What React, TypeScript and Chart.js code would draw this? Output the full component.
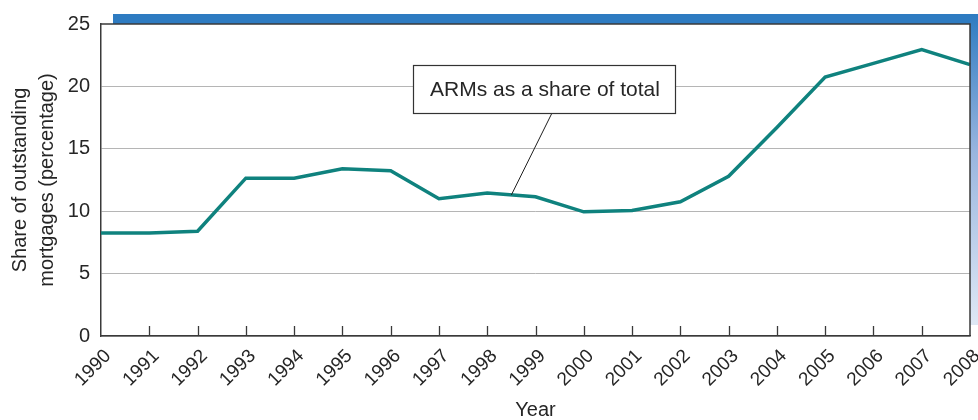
import React, { useEffect, useRef } from "react";
import { Chart, registerables } from "chart.js";

Chart.register(...registerables);

const years = [
  "1990", "1991", "1992", "1993", "1994", "1995", "1996", "1997", "1998", "1999",
  "2000", "2001", "2002", "2003", "2004", "2005", "2006", "2007", "2008",
];
const armShare = [
  8.25, 8.25, 8.4, 12.65, 12.65, 13.4, 13.25, 11.0, 11.45, 11.15,
  9.95, 10.05, 10.75, 12.8, 16.7, 20.75, 21.85, 22.95, 21.75,
];
const yTicks = [0, 5, 10, 15, 20, 25];
const calloutText = "ARMs as a share of total";
const calloutYear = 8.5; // index position (between 1998 and 1999) the pointer touches
const calloutValue = 11.3;

const FONT = "'Liberation Sans', Arial, Helvetica, sans-serif";
const INK = "#262626";
const FRAME = "#3a3a3a";
const TEAL = "#0f827e";
const BLUE = "#2e7bc1";

const framePlugin = {
  id: "frameAndDecor",
  beforeDraw(chart: any) {
    const { ctx, chartArea } = chart;
    const { left, top, right, bottom } = chartArea;
    ctx.save();
    // blue band along the top of the panel
    ctx.fillStyle = BLUE;
    ctx.fillRect(left + 12, top - 10, chart.width - left - 12, 10);
    // fading blue strip down the right edge
    const g = ctx.createLinearGradient(0, top - 10, 0, bottom - 11);
    g.addColorStop(0, BLUE);
    g.addColorStop(0.45, "#9ab6df");
    g.addColorStop(1, "#dfe8f5");
    ctx.fillStyle = g;
    ctx.fillRect(right, top - 10, chart.width - right, bottom - 11 - (top - 10));
    ctx.restore();
  },
  afterDraw(chart: any) {
    const { ctx, chartArea, scales } = chart;
    const { left, top, right, bottom } = chartArea;
    const x = scales.x;
    const y = scales.y;
    ctx.save();
    // top and right frame lines
    ctx.strokeStyle = FRAME;
    ctx.lineWidth = 1.5;
    ctx.beginPath();
    ctx.moveTo(left, top);
    ctx.lineTo(right, top);
    ctx.lineTo(right, bottom);
    ctx.stroke();
    // inward year tick marks
    ctx.lineWidth = 1.3;
    ctx.beginPath();
    for (let i = 1; i < years.length - 1; i++) {
      const px = Math.round(x.getPixelForValue(i)) + 0.5;
      ctx.moveTo(px, bottom);
      ctx.lineTo(px, bottom - 10);
    }
    ctx.stroke();

    // callout box with leader line
    const tipX = x.getPixelForValue(calloutYear);
    const tipY = y.getPixelForValue(calloutValue);
    const bx = left + 312;
    const by = top + 41;
    const bw = 262;
    const bh = 48;
    ctx.strokeStyle = "#1e1e1e";
    ctx.lineWidth = 1;
    ctx.beginPath();
    ctx.moveTo(bx + 139, by + bh);
    ctx.lineTo(tipX, tipY);
    ctx.stroke();
    ctx.fillStyle = "#ffffff";
    ctx.fillRect(bx, by, bw, bh);
    ctx.strokeStyle = "#333333";
    ctx.lineWidth = 1.2;
    ctx.strokeRect(bx + 0.5, by + 0.5, bw, bh);
    ctx.fillStyle = INK;
    ctx.font = `21px ${FONT}`;
    ctx.textAlign = "center";
    ctx.textBaseline = "middle";
    ctx.fillText(calloutText, bx + bw / 2 + 1, by + bh / 2 + 1);
    ctx.restore();
  },
};

export default function App() {
  const canvasRef = useRef<HTMLCanvasElement | null>(null);

  useEffect(() => {
    const canvas = canvasRef.current;
    if (!canvas) return;
    const chart = new Chart(canvas, {
      type: "line",
      data: {
        labels: years,
        datasets: [
          {
            label: calloutText,
            data: armShare,
            borderColor: TEAL,
            borderWidth: 3.5,
            pointRadius: 0,
            tension: 0,
            fill: false,
            borderJoinStyle: "miter",
          },
        ],
      },
      options: {
        responsive: false,
        animation: false,
        devicePixelRatio: 1,
        layout: { padding: { top: 24, right: 8, left: 0, bottom: 0 } },
        plugins: {
          legend: { display: false },
          tooltip: { enabled: false },
        },
        scales: {
          x: {
            type: "category",
            offset: false,
            grid: { display: false, drawTicks: false },
            border: { display: true, color: FRAME, width: 1.5 },
            ticks: {
              autoSkip: false,
              minRotation: 45,
              maxRotation: 45,
              padding: 9,
              labelOffset: 7,
              color: INK,
              font: { family: FONT, size: 19 },
            },
            title: {
              display: true,
              text: "Year",
              color: INK,
              font: { family: FONT, size: 20, lineHeight: 1.0 },
              padding: { top: 0, bottom: 0 },
            },
            afterFit(scale: any) {
              scale.height = 84;
              scale.paddingLeft = 0;
              scale.paddingRight = 0;
            },
          },
          y: {
            min: 0,
            max: 25,
            afterBuildTicks(scale: any) {
              scale.ticks = yTicks.map((v) => ({ value: v }));
            },
            grid: {
              color: (c: any) => (c.tick && c.tick.value === 25 ? "rgba(0,0,0,0)" : "#b5b5b5"),
              lineWidth: 1,
              drawTicks: false,
            },
            border: { display: true, color: FRAME, width: 1.5 },
            ticks: {
              padding: 11,
              color: INK,
              font: { family: FONT, size: 20 },
            },
            title: {
              display: true,
              text: ["Share of outstanding", "mortgages (percentage)"],
              color: INK,
              font: { family: FONT, size: 20, lineHeight: 1.35 },
              padding: { top: 7, bottom: 0 },
            },
            afterFit(scale: any) {
              scale.width = 101;
              scale.paddingTop = 0;
              scale.paddingBottom = 0;
            },
          },
        },
      },
      plugins: [framePlugin],
    });
    return () => chart.destroy();
  }, []);

  return (
    <div style={{ position: "absolute", left: 0, top: 0, width: 978, height: 420, background: "#ffffff" }}>
      <canvas ref={canvasRef} width={978} height={420} style={{ display: "block" }} />
    </div>
  );
}
